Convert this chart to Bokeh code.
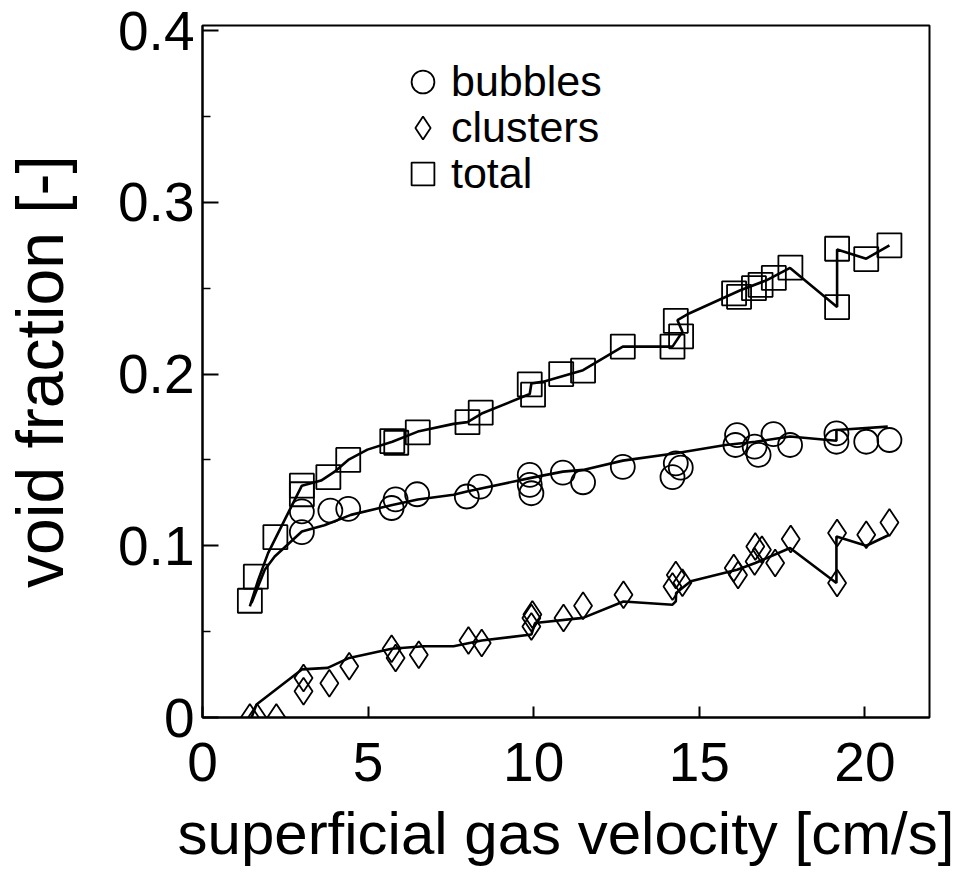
from bokeh.plotting import figure
from bokeh.models import Range1d, FixedTicker, Legend, LegendItem
from bokeh.embed import file_html
from bokeh.resources import INLINE

# ---- data ----
bubbles_x = [3.0, 3.0, 3.86, 4.4, 5.71, 5.83, 6.48, 7.98, 8.38, 9.88, 9.88, 9.93, 10.88, 11.49,
             12.69, 14.19, 14.29, 14.44, 16.09, 16.14, 16.67, 16.79, 17.24, 17.74, 19.14, 19.14,
             20.04, 20.74]
bubbles_y = [0.108, 0.120, 0.1205, 0.1215, 0.122, 0.127, 0.130, 0.1287, 0.1345, 0.1413, 0.1355,
             0.1306, 0.1426, 0.137, 0.146, 0.140, 0.148, 0.1455, 0.1587, 0.1645, 0.1578, 0.153,
             0.165, 0.1587, 0.1655, 0.1606, 0.1606, 0.1616]

clusters_x = [1.43, 1.65, 2.23, 3.05, 3.05, 3.83, 4.43, 5.71, 5.83, 6.53, 8.03, 8.43, 9.93, 9.96,
              9.93, 10.9, 11.49, 12.71, 14.19, 14.29, 14.49, 16.04, 16.17, 16.67, 16.69, 16.89,
              17.29, 17.76, 19.16, 19.16, 20.04, 20.74]
clusters_y = [0.0, 0.0, 0.0, 0.023, 0.0153, 0.020, 0.0298, 0.040, 0.0347, 0.0366, 0.0448, 0.0434,
              0.058, 0.060, 0.053, 0.058, 0.0651, 0.0715, 0.0763, 0.083, 0.0785, 0.087, 0.083,
              0.0909, 0.0996, 0.0977, 0.090, 0.1039, 0.1074, 0.0783, 0.1064, 0.1136]

total_x = [1.43, 1.61, 2.2, 3.0, 3.0, 3.8, 4.4, 5.73, 5.85, 6.5, 8.0, 8.4, 9.88, 9.98, 10.83,
           11.49, 12.69, 14.19, 14.29, 14.45, 16.05, 16.2, 16.65, 16.85, 17.25, 17.75, 19.16,
           19.16, 20.04, 20.74]
total_y = [0.068, 0.082, 0.105, 0.135, 0.130, 0.140, 0.150, 0.161, 0.160, 0.166, 0.172, 0.1775,
           0.194, 0.188, 0.200, 0.202, 0.216, 0.216, 0.231, 0.222, 0.247, 0.245, 0.250, 0.252,
           0.256, 0.262, 0.239, 0.273, 0.267, 0.275]

bubbles_line_x = [1.48, 1.88, 2.18, 3.0, 3.68, 4.48, 5.73, 6.5, 7.58, 7.98, 9.88, 10.88, 11.49,
                  12.69, 14.29, 15.79, 16.69, 17.74, 19.14, 19.14, 20.69]
bubbles_line_y = [0.0667, 0.086, 0.0938, 0.1083, 0.112, 0.118, 0.1238, 0.127, 0.1297, 0.1316,
                  0.1394, 0.1432, 0.1442, 0.1496, 0.1539, 0.1587, 0.1606, 0.1636, 0.1612, 0.1674,
                  0.1694]

clusters_line_x = [1.48, 1.63, 3.0, 3.78, 4.43, 5.71, 6.68, 7.58, 8.43, 9.93, 10.04, 11.49, 12.71,
                   14.19, 14.29, 14.3, 14.74, 16.14, 16.69, 17.74, 19.14, 19.14, 20.04, 20.74]
clusters_line_y = [0.0, 0.0076, 0.028, 0.0289, 0.0347, 0.040, 0.0415, 0.0415, 0.0448, 0.0483,
                   0.055, 0.058, 0.0676, 0.0657, 0.0676, 0.0725, 0.0793, 0.086, 0.090, 0.0987,
                   0.0783, 0.1054, 0.100, 0.1064]

total_line_x = [1.43, 1.68, 1.98, 2.53, 3.0, 3.58, 3.98, 4.4, 4.98, 5.73, 6.5, 7.58, 8.0, 8.43,
                9.88, 9.93, 10.29, 11.49, 12.69, 14.19, 14.49, 14.34, 14.69, 16.24, 17.04, 17.74,
                19.16, 19.16, 20.04, 20.74]
total_line_y = [0.0647, 0.080, 0.0957, 0.117, 0.135, 0.138, 0.143, 0.150, 0.156, 0.1606, 0.1665,
                0.171, 0.172, 0.177, 0.1884, 0.1945, 0.1956, 0.2023, 0.216, 0.216, 0.2246, 0.2314,
                0.2353, 0.2488, 0.2547, 0.2618, 0.2391, 0.2725, 0.2672, 0.275]

x_ticks = [0, 5, 10, 15, 20]
y_ticks = [0, 0.1, 0.2, 0.3, 0.4]
y_minor = [0.05, 0.15, 0.25, 0.35]
y_tick_labels = {0: "0", 0.1: "0.1", 0.2: "0.2", 0.3: "0.3", 0.4: "0.4"}
series_names = ["bubbles", "clusters", "total"]

FONT = "Liberation Sans"

p = figure(width=960, height=869, output_backend="svg", toolbar_location=None,
           x_range=Range1d(0, 21.95), y_range=Range1d(0, 0.403),
           min_border_left=198, min_border_right=31, min_border_top=25, min_border_bottom=152)
p.grid.visible = False
p.background_fill_color = "white"
p.border_fill_color = "white"
p.outline_line_color = "black"
p.outline_line_width = 2

# lines
lw = 2.6
p.line(bubbles_line_x, bubbles_line_y, line_color="black", line_width=lw)
p.line(clusters_line_x, clusters_line_y, line_color="black", line_width=lw)
p.line(total_line_x, total_line_y, line_color="black", line_width=lw)

# markers
mlw = 1.8
rb = p.scatter(bubbles_x, bubbles_y, marker="circle", size=24, fill_alpha=0,
               line_color="black", line_width=mlw)
rc = p.scatter(clusters_x, clusters_y, marker="diamond", size=27, fill_alpha=0,
               line_color="black", line_width=mlw)
rt = p.scatter(total_x, total_y, marker="square", size=24, fill_alpha=0,
               line_color="black", line_width=mlw)

# axes
for ax in (p.xaxis[0], p.yaxis[0]):
    ax.axis_line_color = "black"
    ax.axis_line_width = 2
    ax.major_tick_line_color = "black"
    ax.major_tick_line_width = 2
    ax.minor_tick_line_color = "black"
    ax.minor_tick_line_width = 1.5
    ax.major_tick_out = 0
    ax.minor_tick_out = 0
    ax.major_label_text_font = FONT
    ax.major_label_text_color = "black"
    ax.axis_label_text_font = FONT
    ax.axis_label_text_font_style = "normal"
    ax.axis_label_text_color = "black"

p.xaxis[0].ticker = FixedTicker(ticks=x_ticks, minor_ticks=[])
p.xaxis[0].major_tick_in = 11
p.xaxis[0].major_label_text_font_size = "55px"
p.xaxis[0].major_label_standoff = 25
p.xaxis[0].axis_label = "superficial gas velocity [cm/s]"
p.xaxis[0].axis_label_text_font_size = "60px"
p.xaxis[0].axis_label_standoff = 16

p.yaxis[0].ticker = FixedTicker(ticks=y_ticks, minor_ticks=y_minor)
p.yaxis[0].major_label_overrides = y_tick_labels
p.yaxis[0].major_tick_in = 16
p.yaxis[0].minor_tick_in = 8
p.yaxis[0].major_label_text_font_size = "55px"
p.yaxis[0].major_label_standoff = 8
p.yaxis[0].axis_label = "void fraction [-]"
p.yaxis[0].axis_label_text_font_size = "66px"
p.yaxis[0].axis_label_standoff = 38

# one legend box per entry, so that each row sits where the reference puts it
legend_rows = [(rb, 607), (rc, 561), (rt, 515)]
for name, (rend, ypos) in zip(series_names, legend_rows):
    lg = Legend(items=[LegendItem(label=name, renderers=[rend])],
                location=(192, ypos), orientation="vertical",
                glyph_width=57, glyph_height=57, spacing=0, label_standoff=0,
                padding=0, margin=0,
                label_text_font=FONT, label_text_font_size="43px",
                label_text_color="black",
                border_line_alpha=0, background_fill_alpha=0)
    p.add_layout(lg, "center")

open("out.html", "w").write(file_html(p, INLINE))
